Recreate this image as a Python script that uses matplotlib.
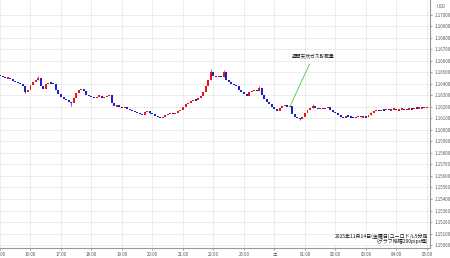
import numpy as np
import matplotlib.pyplot as plt

plt.rcParams['font.family'] = ['Noto Sans CJK JP', 'DejaVu Sans']

# EUR/USD 5-minute closes from 15:00 (one value per candle)
closes = [
    1.16470, 1.16461, 1.16452, 1.16452, 1.16443, 1.16426, 1.16417, 1.16409, 1.16400, 1.16383, 1.16330, 1.16348,  # 15:00
    1.16391, 1.16417, 1.16435, 1.16452, 1.16383, 1.16357, 1.16400, 1.16409, 1.16405, 1.16400, 1.16348, 1.16313,  # 16:00
    1.16287, 1.16270, 1.16261, 1.16243, 1.16235, 1.16278, 1.16322, 1.16348, 1.16357, 1.16339, 1.16304, 1.16296,  # 17:00
    1.16287, 1.16278, 1.16290, 1.16296, 1.16280, 1.16284, 1.16296, 1.16304, 1.16235, 1.16209, 1.16213, 1.16200,  # 18:00
    1.16191, 1.16200, 1.16183, 1.16174, 1.16165, 1.16157, 1.16148, 1.16139, 1.16130, 1.16157, 1.16165, 1.16148,  # 19:00
    1.16139, 1.16122, 1.16113, 1.16104, 1.16113, 1.16130, 1.16139, 1.16148, 1.16139, 1.16148, 1.16165, 1.16174,  # 20:00
    1.16200, 1.16226, 1.16235, 1.16252, 1.16261, 1.16258, 1.16278, 1.16296, 1.16330, 1.16383, 1.16435, 1.16504,  # 21:00
    1.16470, 1.16461, 1.16470, 1.16461, 1.16504, 1.16435, 1.16417, 1.16400, 1.16391, 1.16383, 1.16348, 1.16330,  # 22:00
    1.16313, 1.16296, 1.16330, 1.16339, 1.16348, 1.16339, 1.16365, 1.16304, 1.16270, 1.16243, 1.16226, 1.16200,  # 23:00
    1.16183, 1.16165, 1.16191, 1.16209, 1.16217, 1.16200, 1.16209, 1.16139, 1.16113, 1.16104, 1.16096, 1.16113,  # 00:00
    1.16148, 1.16174, 1.16191, 1.16209, 1.16191, 1.16183, 1.16191, 1.16183, 1.16191, 1.16200, 1.16174, 1.16157,  # 01:00
    1.16148, 1.16130, 1.16113, 1.16104, 1.16122, 1.16118, 1.16113, 1.16104, 1.16113, 1.16122, 1.16113, 1.16115,  # 02:00
    1.16113, 1.16130, 1.16148, 1.16165, 1.16174, 1.16165, 1.16174, 1.16170, 1.16183, 1.16174, 1.16178, 1.16183,  # 03:00
    1.16174, 1.16178, 1.16183, 1.16176, 1.16180, 1.16185, 1.16183, 1.16191, 1.16187, 1.16191, 1.16195, 1.16193,  # 04:00
    1.16200,
]
first_open = 1.16478

# a few visible wicks beyond the bodies (candle index -> price)
wick_high = {15: 1.16465, 83: 1.16530, 88: 1.16522, 102: 1.16383, 123: 1.16226, 146: 1.16152}
wick_low = {10: 1.16322, 28: 1.16209, 59: 1.16140, 118: 1.16087}

hour_labels = ['15:00', '16:00', '17:00', '18:00', '19:00', '20:00', '21:00', '22:00',
               '23:00', '土', '01:00', '02:00', '03:00', '04:00', '05:00']
price_ticks = [1.150 + 0.001 * k for k in range(21)]

event_index = 114
event_text = '週間天然ガス貯蔵量'
footer = '2025年11月14日(金曜日)ユーロドル5分足\n(グラフ縦幅200pips程)'

closes = np.array(closes)
opens = np.concatenate([[first_open], closes[:-1]])
t = np.arange(len(closes)) * 5.0   # minutes since 15:00

fig = plt.figure(figsize=(4.5, 2.58), dpi=100)
ax = fig.add_axes([0, 10 / 258, 430 / 450, 248 / 258])

ax.set_xlim(0, 846)
ax.set_ylim(1.14974, 1.17130)

ax.set_xticks(np.arange(len(hour_labels)) * 60)
ax.set_xticklabels(hour_labels)
ax.set_yticks(price_ticks)
ax.set_yticklabels(['%.5f' % p for p in price_ticks])
ax.yaxis.tick_right()
ax.tick_params(axis='both', labelsize=3.2, colors='#555555', length=1.5, width=0.4, pad=1.5)
ax.grid(True, color='#e6e6e6', lw=0.5)
ax.set_axisbelow(True)
for s in ['top', 'left']:
    ax.spines[s].set_visible(False)
for s in ['right', 'bottom']:
    ax.spines[s].set_color('#999999')
    ax.spines[s].set_linewidth(0.8)

up = '#e8141b'
down = '#1e1ed2'
for i in range(len(closes)):
    o, c = opens[i], closes[i]
    col = up if c >= o else down
    lo, hi = min(o, c), max(o, c)
    h = wick_high.get(i, hi)
    l = wick_low.get(i, lo)
    if h > hi or l < lo:
        ax.vlines(t[i], l, h, color=col, lw=0.5)
    mid = (hi + lo) / 2
    body = max(hi - lo, 0.00014)
    ax.bar(t[i], body, bottom=mid - body / 2, width=3.9, color=col, lw=0)

ax.annotate(event_text, xy=(t[event_index], 1.16200), xytext=(616, 1.16640),
            fontsize=3.4, ha='center', va='center', color='#222222',
            arrowprops=dict(arrowstyle='-', color='#44cc44', lw=0.6, shrinkB=0))

ax.text(843, 1.15005, footer, fontsize=3.6, ha='right', va='bottom', color='#111111',
        linespacing=1.1, bbox=dict(facecolor='white', edgecolor='none', pad=0.3))

fig.text(437 / 450, 1 - 6 / 258, 'USD', fontsize=3.2, color='#555555', va='center')

fig.savefig('out.png', dpi=100)
